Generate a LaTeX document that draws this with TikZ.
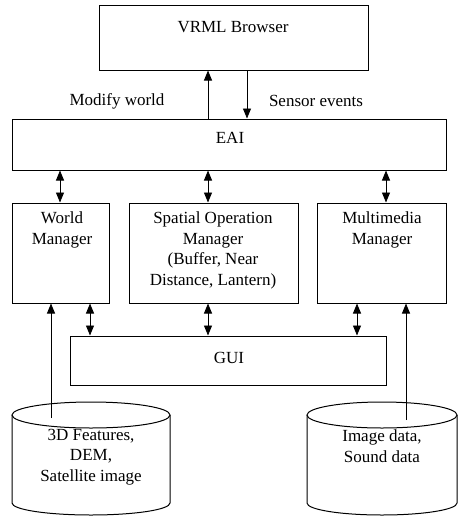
\documentclass[tikz,border=0pt]{standalone}
\usepackage{fontspec}
\setmainfont{Liberation Serif}
\usetikzlibrary{arrows.meta}

\begin{document}
\begin{tikzpicture}[x=1pt,y=-1pt,
    box/.style={draw, line width=1pt, inner sep=0pt},
    lbl/.style={align=center, font=\fontsize{17}{20.5}\selectfont},
    arr/.style={line width=.9pt, -{Triangle[length=10pt,width=8pt]}},
    dbl/.style={line width=.9pt, {Triangle[length=10pt,width=8pt]}-{Triangle[length=10pt,width=8pt]}}]
    \useasboundingbox (0,0) rectangle (459,520);

    % boxes
    \node [box, minimum width=269pt, minimum height=65pt] (vrml) at (233.5,37.5) {};
    \node [box, minimum width=434pt, minimum height=51pt] (eai) at (229,144.5) {};
    \node [box, minimum width=97pt, minimum height=100pt] (wm) at (60.5,253) {};
    \node [box, minimum width=169pt, minimum height=100pt] (som) at (213.5,253) {};
    \node [box, minimum width=129pt, minimum height=100pt] (mm) at (381.5,253) {};
    \node [box, minimum width=316pt, minimum height=49pt] (gui) at (228,360.5) {};

    % box texts
    \node [lbl] (vrmllbl) at (233,27) {VRML Browser};
    \node [lbl] (eailbl) at (230,138) {EAI};
    \node [lbl] (wmlbl) at (62,230) {World\\Manager};
    \node [lbl] (somlbl) at (213,250.5) {Spatial Operation\\Manager\\(Buffer, Near\\Distance, Lantern)};
    \node [lbl] (mmlbl) at (382,230) {Multimedia\\Manager};
    \node [lbl] (guilbl) at (229,358) {GUI};

    % data stores
    \draw [line width=1pt] (12,415) -- (12,503) arc [start angle=180, end angle=0, x radius=79, y radius=12] -- (170,415);
    \draw [line width=1pt] (91,415) ellipse [x radius=79, y radius=13];
    \draw [line width=1pt] (307,415) -- (307,503) arc [start angle=180, end angle=0, x radius=75, y radius=12] -- (457,415);
    \draw [line width=1pt] (382,415) ellipse [x radius=75, y radius=13];

    \node [lbl] (featlbl) at (91,457) {3D Features,\\DEM,\\Satellite image};
    \node [lbl] (medialbl) at (382,446) {Image data,\\Sound data};

    % arrow positions
    \coordinate (up) at (208,0);
    \coordinate (down) at (247,0);
    \coordinate (c1) at (60,0);
    \coordinate (c2) at (208,0);
    \coordinate (c3) at (386,0);
    \coordinate (g1) at (90,0);
    \coordinate (g2) at (208,0);
    \coordinate (g3) at (357,0);
    \coordinate (feat) at (51,418);
    \coordinate (media) at (406,420);

    \draw [arr] (eai.north -| up) -- (vrml.south -| up);
    \draw [arr] (vrml.south -| down) -- (eai.north -| down);
    \node [lbl] (modlbl) at (117,101) {Modify world};
    \node [lbl] (senslbl) at (316,101) {Sensor events};

    \draw [dbl] (eai.south -| c1) -- (wm.north -| c1);
    \draw [dbl] (eai.south -| c2) -- (som.north -| c2);
    \draw [dbl] (eai.south -| c3) -- (mm.north -| c3);

    \draw [dbl] (wm.south -| g1) -- (gui.north -| g1);
    \draw [dbl] (som.south -| g2) -- (gui.north -| g2);
    \draw [dbl] (mm.south -| g3) -- (gui.north -| g3);

    \draw [arr] (feat) -- (wm.south -| feat);
    \draw [arr] (media) -- (mm.south -| media);
\end{tikzpicture}
\end{document}
